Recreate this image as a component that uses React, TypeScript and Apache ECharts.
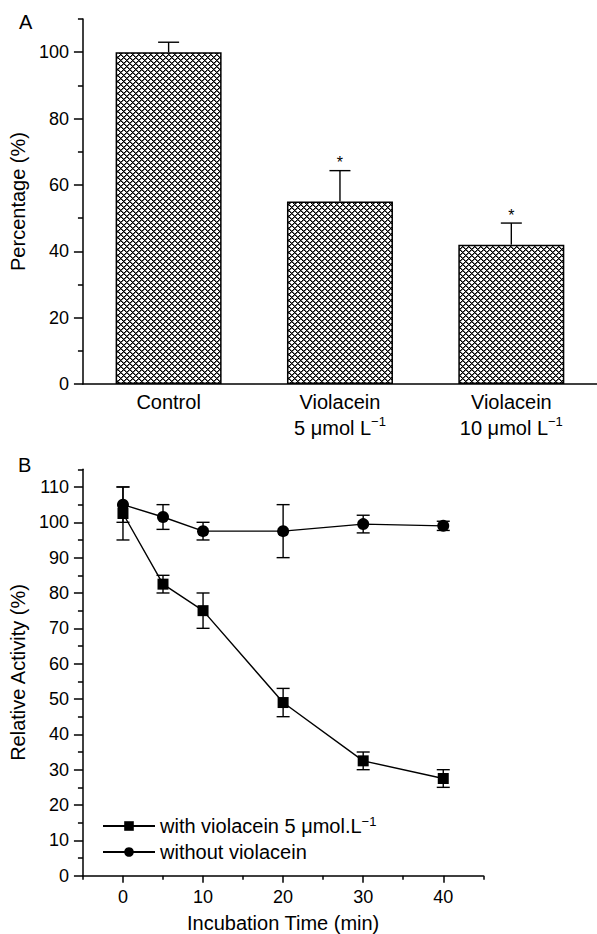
import React, { useEffect, useRef } from 'react';
import * as echarts from 'echarts';

// ---------- Panel A data ----------
const categoriesA = ['Control', 'Violacein 5', 'Violacein 10'];
const categoryLabelsA = ['Control', 'Violacein\n5 μmol L{sup|−1}', 'Violacein\n10 μmol L{sup|−1}'];
const percentA = [100, 55, 42];
const percentErrA = [3, 9.3, 6.5];
const starsA = ['', '*', '*'];
const yMajorA = [0, 20, 40, 60, 80, 100];
const yMinorA = [10, 30, 50, 70, 90, 110];

// ---------- Panel B data ----------
const timesB = [0, 5, 10, 20, 30, 40];
const withViolacein = [102.5, 82.5, 75, 49, 32.5, 27.5];
const withViolaceinErr = [7.5, 2.5, 5, 4, 2.5, 2.5];
const withoutViolacein = [105, 101.5, 97.5, 97.5, 99.5, 99];
const withoutViolaceinErr = [5, 3.5, 2.5, 7.5, 2.5, 1.3];
const yMajorB = [0, 10, 20, 30, 40, 50, 60, 70, 80, 90, 100, 110];
const yMinorB = [5, 15, 25, 35, 45, 55, 65, 75, 85, 95, 105, 115];
const xMajorB = [0, 10, 20, 30, 40];
const xMinorB = [-5, 5, 15, 25, 35, 45];
const nameWith = 'with violacein 5 μmol.L−1';
const nameWithout = 'without violacein';

const FONT = '"Liberation Sans", Arial, Helvetica, sans-serif';

function makeHatch(): HTMLCanvasElement {
  const n = 6;
  const c = document.createElement('canvas');
  c.width = n;
  c.height = n;
  const ctx = c.getContext('2d')!;
  const img = ctx.createImageData(n, n);
  for (let y = 0; y < n; y++) {
    for (let x = 0; x < n; x++) {
      const a = (x + y) % n;
      const b = (x - y + n) % n;
      let v = 255;
      if (a === 0 || b === 0) v = 0;
      else if (a === 1 || b === 1) v = 110;
      const k = (y * n + x) * 4;
      img.data[k] = v;
      img.data[k + 1] = v;
      img.data[k + 2] = v;
      img.data[k + 3] = 255;
    }
  }
  ctx.putImageData(img, 0, 0);
  return c;
}

export default function App() {
  const ref = useRef<HTMLDivElement>(null);
  useEffect(() => {
    if (!ref.current) return;
    const chart = echarts.init(ref.current, null, { renderer: 'svg' });
    const hatch = makeHatch();

    const barErrData = percentA.map((v, i) => [i, v, v + percentErrA[i]]);
    const errWith = timesB.map((t, i) => [t, withViolacein[i] - withViolaceinErr[i], withViolacein[i] + withViolaceinErr[i]]);
    const errWithout = timesB.map((t, i) => [t, withoutViolacein[i] - withoutViolaceinErr[i], withoutViolacein[i] + withoutViolaceinErr[i]]);

    const lineStyle = { stroke: '#000', lineWidth: 1.4 };

    const errRenderA = (params: any, api: any) => {
      const x = api.value(0);
      const lo = api.coord([x, api.value(1)]);
      const hi = api.coord([x, api.value(2)]);
      const children: any[] = [
        { type: 'line', shape: { x1: lo[0], y1: lo[1], x2: hi[0], y2: hi[1] }, style: lineStyle },
        { type: 'line', shape: { x1: hi[0] - 10.5, y1: hi[1], x2: hi[0] + 10.5, y2: hi[1] }, style: lineStyle },
      ];
      const star = starsA[params.dataIndex];
      if (star) {
        children.push({
          type: 'text',
          style: {
            text: star, x: hi[0], y: hi[1] - 8, align: 'center', verticalAlign: 'middle',
            fontSize: 16, fontFamily: FONT, fill: '#000',
          },
        });
      }
      return { type: 'group', children };
    };

    const errRenderB = (params: any, api: any) => {
      const x = api.value(0);
      const lo = api.coord([x, api.value(1)]);
      const hi = api.coord([x, api.value(2)]);
      const w = 6.5;
      return {
        type: 'group',
        children: [
          { type: 'line', shape: { x1: lo[0], y1: lo[1], x2: hi[0], y2: hi[1] }, style: lineStyle },
          { type: 'line', shape: { x1: hi[0] - w, y1: hi[1], x2: hi[0] + w, y2: hi[1] }, style: lineStyle },
          { type: 'line', shape: { x1: lo[0] - w, y1: lo[1], x2: lo[0] + w, y2: lo[1] }, style: lineStyle },
        ],
      };
    };

    const axisLineStyle = { color: '#000', width: 1.5 };
    const tickLine = { color: '#000', width: 1.5 };
    const labelStyle = { color: '#000', fontSize: 18, fontFamily: FONT };
    const nameStyle = { color: '#000', fontSize: 20, fontFamily: FONT };
    const supRich = { sup: { fontSize: 13, verticalAlign: 'top', lineHeight: 13, fontFamily: FONT, color: '#000' } };

    chart.setOption({
      animation: false,
      textStyle: { fontFamily: FONT, color: '#000' },
      grid: [
        { left: 77, top: 19, width: 533, height: 365 },
        { left: 77, top: 469.3, width: 406.3, height: 406.4 },
      ],
      graphic: [
        { type: 'text', left: 19, top: 12, style: { text: 'A', fontSize: 20, fontFamily: FONT, fill: '#000' } },
        { type: 'text', left: 18, top: 455, style: { text: 'B', fontSize: 20, fontFamily: FONT, fill: '#000' } },
      ],
      legend: {
        data: [nameWith, nameWithout],
        orient: 'vertical',
        left: 102,
        top: 815,
        itemWidth: 52,
        itemHeight: 12,
        itemGap: 4,
        padding: 0,
        formatter: (n: string) => (n === nameWith ? 'with violacein 5 μmol.L{sup|−1}' : n),
        textStyle: { color: '#000', fontSize: 20, fontFamily: FONT, lineHeight: 22, rich: supRich },
      },
      xAxis: [
        {
          type: 'category',
          gridIndex: 0,
          position: 'bottom',
          data: categoriesA,
          axisLine: { onZero: false, lineStyle: axisLineStyle },
          axisTick: { show: false },
          axisLabel: {
            ...labelStyle,
            fontSize: 20,
            lineHeight: 26,
            margin: 5,
            interval: 0,
            formatter: (_v: string, i: number) => categoryLabelsA[i],
            rich: supRich,
          },
          splitLine: { show: false },
        },
        {
          type: 'value',
          gridIndex: 1,
          position: 'bottom',
          min: -5,
          max: 45,
          name: 'Incubation Time (min)',
          nameLocation: 'middle',
          nameGap: 37,
          nameTextStyle: nameStyle,
          axisLine: { onZero: false, lineStyle: axisLineStyle },
          axisTick: { customValues: xMajorB, length: 7, lineStyle: tickLine },
          axisLabel: { ...labelStyle, customValues: xMajorB, margin: 12 },
          splitLine: { show: false },
        },
        {
          type: 'value',
          gridIndex: 1,
          position: 'bottom',
          min: -5,
          max: 45,
          axisLine: { show: false, onZero: false },
          axisTick: { customValues: xMinorB, length: 4, lineStyle: tickLine },
          axisLabel: { show: false },
          splitLine: { show: false },
        },
      ],
      yAxis: [
        {
          type: 'value',
          gridIndex: 0,
          position: 'left',
          min: 0,
          max: 110,
          name: 'Percentage (%)',
          nameLocation: 'middle',
          nameGap: 46,
          nameTextStyle: nameStyle,
          axisLine: { show: true, onZero: false, lineStyle: axisLineStyle },
          axisTick: { show: true, customValues: yMajorA, length: 9, lineStyle: tickLine },
          axisLabel: { ...labelStyle, customValues: yMajorA, margin: 14 },
          splitLine: { show: false },
        },
        {
          type: 'value',
          gridIndex: 0,
          position: 'left',
          min: 0,
          max: 110,
          axisLine: { show: false, onZero: false },
          axisTick: { show: true, customValues: yMinorA, length: 5, lineStyle: tickLine },
          axisLabel: { show: false },
          splitLine: { show: false },
        },
        {
          type: 'value',
          gridIndex: 1,
          position: 'left',
          min: 0,
          max: 115,
          name: 'Relative Activity (%)',
          nameLocation: 'middle',
          nameGap: 46,
          nameTextStyle: nameStyle,
          axisLine: { show: true, onZero: false, lineStyle: axisLineStyle },
          axisTick: { show: true, customValues: yMajorB, length: 9, lineStyle: tickLine },
          axisLabel: { ...labelStyle, customValues: yMajorB, margin: 14 },
          splitLine: { show: false },
        },
        {
          type: 'value',
          gridIndex: 1,
          position: 'left',
          min: 0,
          max: 115,
          axisLine: { show: false, onZero: false },
          axisTick: { show: true, customValues: yMinorB, length: 5, lineStyle: tickLine },
          axisLabel: { show: false },
          splitLine: { show: false },
        },
      ],
      series: [
        {
          type: 'bar',
          xAxisIndex: 0,
          yAxisIndex: 0,
          data: percentA,
          barWidth: 106,
          itemStyle: {
            color: { image: hatch, repeat: 'repeat' },
            borderColor: '#000',
            borderWidth: 1.5,
          },
          z: 2,
        },
        {
          type: 'custom',
          xAxisIndex: 0,
          yAxisIndex: 0,
          data: barErrData,
          encode: { x: 0, y: [1, 2] },
          renderItem: errRenderA,
          z: 3,
        },
        {
          type: 'custom',
          xAxisIndex: 1,
          yAxisIndex: 2,
          data: errWith,
          encode: { x: 0, y: [1, 2] },
          renderItem: errRenderB,
          z: 2,
        },
        {
          type: 'custom',
          xAxisIndex: 1,
          yAxisIndex: 2,
          data: errWithout,
          encode: { x: 0, y: [1, 2] },
          renderItem: errRenderB,
          z: 2,
        },
        {
          name: nameWith,
          type: 'line',
          xAxisIndex: 1,
          yAxisIndex: 2,
          data: timesB.map((t, i) => [t, withViolacein[i]]),
          symbol: 'rect',
          symbolSize: 11,
          color: '#000',
          itemStyle: { color: '#000' },
          lineStyle: { color: '#000', width: 1.4 },
          z: 3,
        },
        {
          name: nameWithout,
          type: 'line',
          xAxisIndex: 1,
          yAxisIndex: 2,
          data: timesB.map((t, i) => [t, withoutViolacein[i]]),
          symbol: 'circle',
          symbolSize: 12,
          color: '#000',
          itemStyle: { color: '#000' },
          lineStyle: { color: '#000', width: 1.4 },
          z: 3,
        },
      ],
    });
    return () => chart.dispose();
  }, []);
  return <div ref={ref} style={{ position: 'absolute', left: 0, top: 0, width: 597, height: 934, background: '#fff' }} />;
}
